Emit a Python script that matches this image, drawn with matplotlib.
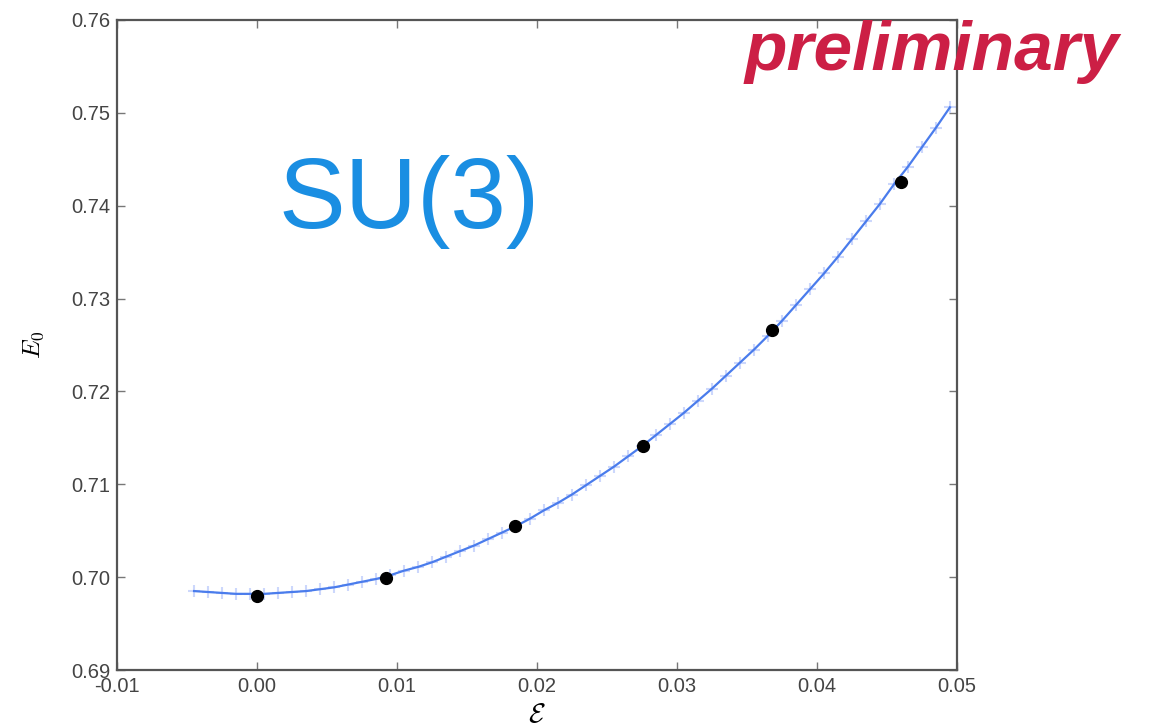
import numpy as np
import matplotlib
matplotlib.use("Agg")
from matplotlib import pyplot as plt

# fitted curve
curve_x = [-0.0045 + 0.001 * k for k in range(55)]
curve_y = [0.6985, 0.6984, 0.6983, 0.6982, 0.6982, 0.6982, 0.6983, 0.6984, 0.6985, 0.6987,
           0.6989, 0.6992, 0.6995, 0.6998, 0.7002, 0.7007, 0.7011, 0.7016, 0.7022, 0.7028,
           0.7034, 0.7041, 0.7048, 0.7055, 0.7063, 0.7072, 0.7080, 0.7089, 0.7099, 0.7109,
           0.7119, 0.7130, 0.7141, 0.7153, 0.7165, 0.7177, 0.7190, 0.7203, 0.7217, 0.7231,
           0.7245, 0.7260, 0.7276, 0.7293, 0.7310, 0.7327, 0.7345, 0.7364, 0.7383, 0.7402,
           0.7423, 0.7442, 0.7463, 0.7484, 0.7506]

# data points
eps = [0.0, 0.0092, 0.0184, 0.0276, 0.0368, 0.0460]
E0 = [0.6980, 0.6999, 0.7055, 0.7141, 0.7266, 0.7425]

xticks = [-0.01, 0.00, 0.01, 0.02, 0.03, 0.04, 0.05]
yticks = [0.69, 0.70, 0.71, 0.72, 0.73, 0.74, 0.75, 0.76]

plt.rcParams['mathtext.fontset'] = 'cm'
plt.rcParams['axes.unicode_minus'] = False
plt.rcParams['font.family'] = ['Liberation Sans', 'DejaVu Sans']

fig = plt.figure(figsize=(11.51, 7.27), dpi=100)
ax = fig.add_axes([0.1017, 0.0784, 0.7297, 0.8941])

# light "+" markers along the curve, then the line
ax.plot(curve_x, curve_y, linestyle='none', marker='+', markersize=9,
        markeredgewidth=1.5, color='#c0cdfc', alpha=0.8, zorder=2)
ax.plot(curve_x, curve_y, color='#4a7cec', linewidth=1.6, zorder=3)
ax.plot(eps, E0, 'o', color='black', markersize=8.5, zorder=4)

ax.set_xlim(-0.01, 0.05)
ax.set_ylim(0.69, 0.76)
ax.set_xticks(xticks)
ax.set_yticks(yticks)
ax.set_xticklabels(['%.2f' % t for t in xticks])
ax.set_yticklabels(['%.2f' % t for t in yticks])
ax.tick_params(direction='in', length=6, width=1, color='#777777',
               labelsize=14.5, labelcolor='#444444', top=True, right=True, pad=5)
for s in ax.spines.values():
    s.set_color('#555555')
    s.set_linewidth(1.6)

ax.set_xlabel(r'$\mathcal{E}$', fontsize=20, labelpad=4)
ax.set_ylabel(r'$E_0$', fontsize=18, labelpad=18)

fig.text(278 / 1151, 1 - 228 / 727, 'SU(3)', color='#1a8ee2', fontsize=72,
         va='baseline', ha='left')
fig.text(745 / 1151, 1 - 70 / 727, 'preliminary', color='#cc1f45', fontsize=50,
         fontweight='bold', fontstyle='italic', ha='left', va='baseline')

fig.savefig('out.png', dpi=100)
